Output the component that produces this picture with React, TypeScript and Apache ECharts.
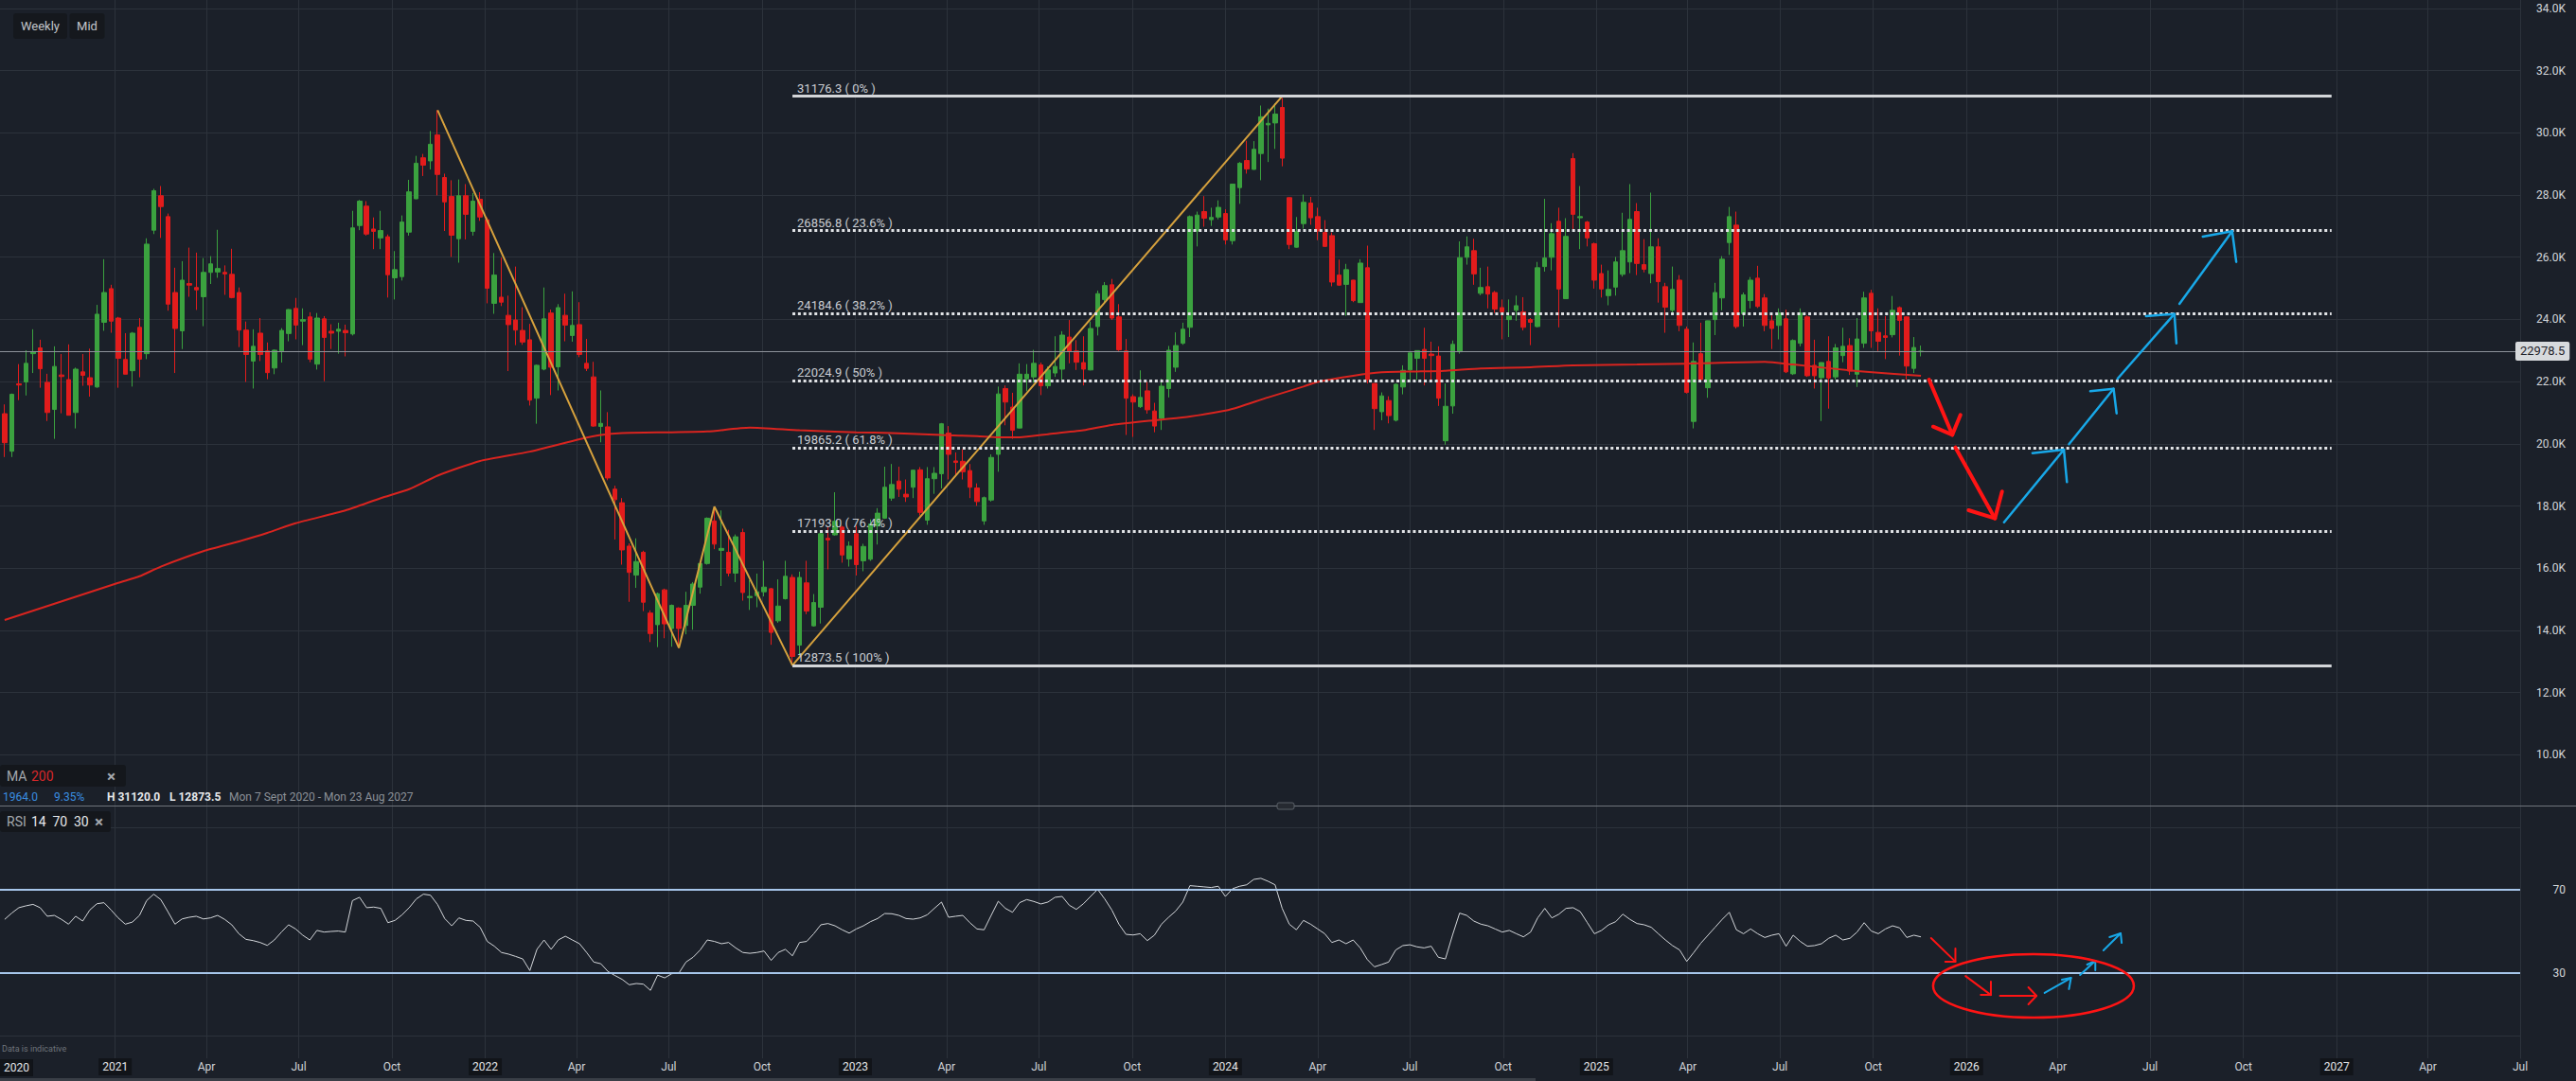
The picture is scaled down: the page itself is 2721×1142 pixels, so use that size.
import React, { useEffect, useRef } from "react";
import * as echarts from "echarts";

const FONT = "Roboto, 'Noto Sans', sans-serif";
const BG = "#1b2029";
const GRID = "#2c323b";
const UP = "#3ba23f";
const DOWN = "#e21c1c";
const MA_RED = "#d9241f";
const ORANGE = "#d6a13d";
const RSI_BAND = "#a7c6ea";
const ARROW_RED = "#ff1414";
const ARROW_BLUE = "#18a8e8";

const DAY = 86400000;
const FIRST_WEEK = "2020-09-14";
const X_MIN = "2020-09-09T10:00:00Z";
const X_MAX = "2027-07-01T00:00:00Z";

const OPEN = [
  20967,19760,21926,21988,22897,23084,21976,21104,22212,22063,
  21005,22312,22125,21826,23906,24989,24042,22710,22349,23744,
  22897,26868,27976,27304,24864,23632,25150,25026,24727,25511,
  25524,25511,25449,24864,23656,22660,23557,22984,22436,22984,
  23545,24354,23943,24080,22561,24017,23619,23619,23644,23532,
  27018,27641,26906,26619,26657,25337,25374,26806,27877,29197,
  29097,29931,28562,27951,26594,27976,26831,27864,27205,24516,
  24714,24130,23980,23644,23345,21465,22399,24204,22474,24130,
  23482,23831,22586,22150,20556,20544,18540,18104,16709,15776,
  16510,14556,14182,15302,14057,14717,14157,14805,15390,16149,
  17519,16573,16510,15838,17145,15053,15116,15240,15340,14306,
  15016,15701,13522,15526,14145,14742,16958,17070,17319,16299,
  17108,16236,16286,17357,17606,18253,18801,18378,18602,19162,
  17543,18876,19037,20345,19448,19436,19137,18577,17519,18191,
  19660,21776,21179,20507,22088,22150,22536,21864,22275,22399,
  23432,22984,22611,22374,23769,24640,25113,24080,22984,21515,
  21191,21702,21054,20818,21776,22461,23233,23744,26843,27466,
  27205,27292,27404,26532,28238,29109,28823,29334,30255,30317,
  30815,27914,26321,27080,27740,27304,26794,26694,25424,25126,
  25262,24540,25661,21939,21030,21390,20756,21826,22374,22747,
  23034,22885,22822,20096,21216,22959,25997,26209,24839,25051,
  24864,24379,23993,24291,24242,23993,23769,25698,25997,27155,
  24665,29172,27267,27130,26433,25474,24764,25038,25449,25847,
  27466,25760,25474,26333,25051,24291,25262,23682,20718,22897,
  21801,23993,24690,26470,27030,24179,24603,25325,24690,23955,
  23806,24017,22250,23233,24080,22523,22125,22648,22150,22835,
  23158,22237,23233,24839,23582,23470,23507,24379,24080,22424,22959,
];
const HIGH = [
  21266,21615,22561,23009,23682,23345,22250,23134,22885,23196,
  22449,22885,23059,24466,25935,25113,24080,23557,23594,24042,
  26607,28200,28288,27404,25661,25872,26308,26147,25972,26034,
  26881,25736,26271,25026,23930,23682,24042,23258,23034,23719,
  24330,24690,24354,24229,24204,24105,23843,23893,23831,27491,
  27840,27802,27279,27491,26731,26196,27342,28487,29259,29321,
  30056,30728,28686,28474,28499,28350,28064,28089,27279,26134,
  25985,24764,25698,24391,23856,22548,25026,24316,24490,24827,
  24901,24553,23370,22635,21714,21017,18651,18253,16797,16958,
  16560,14643,15215,15340,14830,14742,15240,15551,16199,17631,
  17979,17855,17232,17083,17270,15614,15825,16236,15365,15639,
  16236,15800,15888,16236,15166,17132,17319,18440,17357,16859,
  17357,16784,17568,17930,19262,19349,19262,18851,19162,19250,
  19250,19250,20668,20569,19722,19822,19349,18726,18303,19660,
  21839,21876,21640,22586,22561,23021,22611,22486,23457,23619,
  23980,23333,23457,23930,24926,25200,25300,24490,23370,21590,
  22361,21988,21316,22088,23146,23582,23893,27342,27466,27964,
  27591,27827,27541,28360,29060,29744,29732,30877,30778,30952,
  31120,27920,27292,28014,27939,27591,27192,26794,25922,25785,
  25270,25935,26371,21945,21652,21527,21939,22523,22930,23000,
  23731,23283,23134,21939,23320,26508,26669,26594,25661,25698,
  24914,24640,24640,24764,24714,24042,25847,27877,27093,27591,
  27254,29346,28288,27167,26470,25760,25574,26009,27429,28350,
  27740,26582,28076,26607,25175,25698,25424,23769,23258,23893,
  23960,25175,26034,27616,27466,24864,25362,25723,24814,24130,
  24354,24316,23358,24354,24130,23345,22620,23457,23208,23731,
  23395,24042,24889,24951,24354,24105,24752,24416,24105,23432,23158,
];
const LOW = [
  19573,19573,21403,21553,22275,21801,20731,20158,20980,20917,
  20494,21864,21515,21801,23632,23569,21801,22237,21839,22137,
  22722,26744,26619,24279,22275,23046,24727,24304,23781,25138,
  25337,24789,24677,23109,21988,21776,22660,22075,22237,22611,
  23295,23358,23171,22623,22386,22013,23046,22897,22810,23482,
  26868,26694,26259,26259,24702,24640,25250,26694,27870,28611,
  28823,27989,26843,26009,25823,26570,26694,27168,24516,24179,
  24428,22337,23171,23183,21229,20644,22361,21565,21714,23295,
  23283,22785,22337,20544,20046,18826,16921,16112,14917,15365,
  14618,13622,13460,13746,13472,13435,13871,14020,15178,16112,
  16610,15427,15738,15551,14954,14655,14742,15091,13535,14244,
  14991,12874,13124,14518,14120,14219,15962,17045,16174,16050,
  15763,15900,16236,16759,17581,18166,18291,18129,18253,17693,
  17394,18390,18564,18851,18950,18851,18253,18004,17394,18141,
  19100,20594,20158,20500,21689,21963,21565,21776,22150,22063,
  22586,22374,21876,22360,23482,24516,23980,22984,20283,20220,
  21154,20967,20370,20444,21490,22312,23183,23432,26346,26980,
  27005,27217,26408,26408,27716,28686,28811,28475,29060,29483,
  28922,26259,26310,26918,27043,26545,26340,25063,25076,24117,
  24553,24530,21939,20444,20756,20656,20718,21590,21988,22051,
  21876,22063,21216,19971,20967,22897,25760,25113,24777,24354,
  24204,23358,23432,23955,23644,23171,23744,25536,25574,23744,
  24660,26856,26259,26346,24989,24702,24453,24764,25374,25486,
  25424,25511,25163,24540,23569,24229,23619,21615,20494,22050,
  21478,23495,24291,26072,23706,23769,24354,24366,23619,23046,
  23357,22275,22212,23134,22150,21776,20731,21129,22063,22623,
  22212,21826,23084,23084,22984,22722,23420,22835,22063,22275,22810,
];
const CLOSE = [
  20034,21590,21889,22586,22959,22411,21005,22486,22162,20917,
  22399,22200,21889,24167,24864,23943,22747,22237,23557,22722,
  26420,28138,27628,24490,23706,25262,25101,24951,25511,25785,
  25636,25462,24702,23656,22872,23134,22872,22287,23009,23644,
  24316,23818,23993,22722,24042,23420,23557,23682,23569,26943,
  27802,26744,26831,26856,25436,25599,27130,28101,29022,28960,
  29632,28661,27777,26706,27976,27379,27802,27292,25001,25424,
  24553,23831,23656,23271,21403,22523,24017,22461,24379,23818,
  23806,22872,22424,20569,20656,18900,18203,16585,15863,16212,
  14904,13896,15178,14207,14805,14057,14805,15489,16149,17606,
  16772,16635,15838,17008,15215,15091,15240,15390,13933,14780,
  15738,13161,15701,14618,14892,17108,16909,17506,16423,16709,
  16112,16697,17419,17768,18602,18689,18540,18291,19150,17793,
  18876,19050,20643,19660,19398,19100,18602,18141,18266,19560,
  21602,21341,20432,22237,22237,22586,21864,22374,22486,23495,
  22972,22623,22399,23706,24827,25088,24042,23021,21465,21341,
  21490,21092,20569,21851,23009,23159,23682,27304,27354,27254,
  27279,27603,26557,28350,29022,28835,29470,30516,30305,30603,
  29184,26408,26819,27765,27267,26843,26346,25200,25101,25599,
  24602,25810,22063,21129,21540,20905,21913,22361,22922,22996,
  22747,22835,21465,21204,23196,25985,26333,25462,25026,24814,
  24329,24242,24105,24441,23744,23906,25661,25972,26756,24976,
  26669,27379,27304,26619,25262,24976,24964,25847,26209,27217,
  25798,25611,26333,25213,24391,24964,23806,21652,22648,22063,
  23955,24864,25935,27304,23769,24789,25262,24416,23806,23706,
  24204,22312,23320,24204,22187,22187,22611,22113,23084,23134,
  22337,23370,24690,23632,23295,23420,24291,23968,22498,23096,22978.5,
];
const RSI = [
  55.8,58.8,61.4,62.3,63,61.4,57.3,57.7,55.8,53.5,
  57.3,55,60.3,63.3,63.8,60.3,56.5,53.5,54.5,57.7,
  64.8,67.9,65.3,59.5,53.5,56,56.8,57.3,56,56.5,
  57.7,55.8,53.2,48.9,46.2,45.6,44.7,43.3,45.9,49.7,
  53.2,51.2,48.2,45.9,50.5,49.7,50,50.2,49.7,64.8,
  66.4,61.4,61.7,61.1,54.2,55.3,58,61.4,65.6,67.9,
  67.4,62.9,56.2,52.7,56.5,55.3,55,52,45.2,42.9,
  39.9,39.1,38,36.8,31.2,41.4,45.9,41.4,45.9,47.7,
  45.9,44.1,39.9,35.3,34.5,30.8,28.8,27,24.4,25,
  24.7,21.7,29,27.7,29.7,30,35.3,37.6,41.1,45.9,
  45.2,44.1,44.7,42.1,39.9,39.5,39.9,40.6,36.1,39.9,
  41.4,38.3,44.7,45.2,48.9,53.2,53.8,52.7,50.8,49.2,
  51.2,52.7,54.7,56.2,58.6,58.5,57.7,56.2,55.9,56.5,
  58,61.1,64.1,56.8,57.3,57.7,54.2,51.2,50.8,57.7,
  64.5,61.1,59.2,63.8,65.3,64.4,63.2,64.1,66.4,66.8,
  62.6,60.6,63.3,66.8,70.2,65.6,60.3,53.5,48.6,48.3,
  48.9,45.6,48.2,53.5,56.8,59.8,64.1,72,71.7,71.4,
  71.1,71.7,66.8,70.5,71.7,72.4,75,75.5,74.1,72.4,
  61.1,53.5,50.8,55.3,53.5,51.2,48.9,44.7,45.9,44.1,
  45.9,42.1,36.5,33,34.1,35.3,41.1,43.2,43.6,42.6,
  42.1,42.9,37.6,36.8,48.2,58.8,57.7,55,53.5,52.7,
  51.2,49.7,50.5,48.9,47.4,49.7,56.5,61.1,56.5,58.3,
  61.1,61.4,59.5,54.2,48.9,50.5,53.2,54.7,58.3,55.8,
  53.8,53.2,52,48.9,45.9,43.2,41.1,35.6,39.9,44.4,
  48.2,52,55.8,59.2,50.8,48.9,51.2,48.9,47.1,48.2,
  48.9,42.9,48.2,45.2,42.9,43.2,44.1,46.7,48.2,45.9,
  46.7,49.7,54.2,50.2,48.9,51.2,52.7,51.7,47.1,48.2,47.4,
];
const MA_WEEK = [1,17,20,23,29,34,38,42,49,54,58,62,68,75,82,85,88,95,100,106,113,121,126,133,138,141,144,148,153,157,164,168,173,175,179,184,186,191,195,200,204,209,216,222,231,240,249,253,262,271];
const MA_VALUE = [14330,15526,15738,16050,16547,16859,17132,17444,17855,18253,18540,18975,19448,19747,20145,20282,20345,20370,20394,20519,20432,20370,20345,20282,20245,20208,20208,20307,20432,20606,20780,20880,21067,21191,21490,21839,21988,22187,22299,22324,22349,22424,22461,22523,22548,22586,22635,22548,22337,22187];

const X_TICKS = [
  "2021-01-01","2021-04-01","2021-07-01","2021-10-01",
  "2022-01-01","2022-04-01","2022-07-01","2022-10-01",
  "2023-01-01","2023-04-01","2023-07-01","2023-10-01",
  "2024-01-01","2024-04-01","2024-07-01","2024-10-01",
  "2025-01-01","2025-04-01","2025-07-01","2025-10-01",
  "2026-01-01","2026-04-01","2026-07-01","2026-10-01",
  "2027-01-01","2027-04-01","2027-07-01",
];
const X_TICK_LABELS = [
  "2021","Apr","Jul","Oct","2022","Apr","Jul","Oct","2023","Apr","Jul","Oct",
  "2024","Apr","Jul","Oct","2025","Apr","Jul","Oct","2026","Apr","Jul","Oct",
  "2027","Apr","Jul",
];

const LAST_PRICE = 22978.5;
const FIB_LEVELS = [31176.3, 26856.8, 24184.6, 22024.9, 19865.2, 17193.0, 12873.5];
const FIB_PCT = ["0%", "23.6%", "38.2%", "50%", "61.8%", "76.4%", "100%"];
const FIB_START = "2022-10-31";
const FIB_END = "2026-12-27";

const ZIGZAG_DATES = ["2021-11-15", "2022-07-11", "2022-08-15", "2022-10-31", "2024-02-26"];
const ZIGZAG_VALUES = [30728, 13435, 17979, 12873.5, 31176.3];

// hand-drawn arrows on the price pane: [tail, tip, head1, head2] as [date, price]
const PRICE_ARROWS_RED = [
  [["2025-11-25", 22064], ["2025-12-18", 20289], ["2025-11-29", 20551], ["2025-12-26", 20928]],
  [["2025-12-21", 19881], ["2026-01-29", 17598], ["2026-01-03", 17863], ["2026-02-05", 18463]],
];
const PRICE_ARROWS_BLUE = [
  [["2026-02-07", 17476], ["2026-04-07", 19811], ["2026-03-07", 19699], ["2026-04-10", 18767]],
  [["2026-04-12", 19985], ["2026-05-26", 21769], ["2026-05-03", 21689], ["2026-05-29", 20977]],
  [["2026-05-30", 22094], ["2026-07-25", 24174], ["2026-06-27", 24103], ["2026-07-27", 23230]],
  [["2026-07-30", 24499], ["2026-09-20", 26834], ["2026-08-22", 26661], ["2026-09-24", 25848]],
];
// arrows on the RSI pane: [tail, tip, head1, head2] as [date, rsi]
const RSI_ARROWS_RED = [
  [["2025-11-27", 46.8], ["2025-12-21", 35.5], ["2025-12-21", 41.8], ["2025-12-11", 35.5]],
  [["2025-12-31", 28.6], ["2026-01-25", 19.5], ["2026-01-25", 25.9], ["2026-01-15", 19.5]],
  [["2026-02-03", 19.1], ["2026-03-11", 19.1], ["2026-03-03", 23.2], ["2026-03-03", 15.0]],
];
const RSI_ARROWS_BLUE = [
  [["2026-03-19", 20.5], ["2026-04-14", 27.7], ["2026-04-05", 26.8], ["2026-04-12", 22.3]],
  [["2026-04-23", 29.1], ["2026-05-08", 35.9], ["2026-04-30", 34.1], ["2026-05-08", 31.4]],
  [["2026-05-16", 40.9], ["2026-06-02", 49.1], ["2026-05-22", 47.3], ["2026-06-03", 44.5]],
];
const RSI_ELLIPSE = { left: "2025-11-29", right: "2026-06-15", top: 39.1, bottom: 8.6 };

const ts = (s: string) => Date.parse(s);

export default function App() {
  const ref = useRef<HTMLDivElement>(null);

  useEffect(() => {
    if (!ref.current) return;
    const chart = echarts.init(ref.current, null, { renderer: "svg" });

    const t0 = ts(FIRST_WEEK);
    const weekTs = OPEN.map((_, i) => t0 + i * 7 * DAY);
    const candleData = OPEN.map((o, i) => [weekTs[i], o, CLOSE[i], LOW[i], HIGH[i]]);
    const maData = MA_WEEK.map((w, k) => [weekTs[w - 1], MA_VALUE[k]]);
    const rsiData = RSI.map((v, i) => [weekTs[i], v]);
    const tickTs = X_TICKS.map(ts);
    const zig = ZIGZAG_DATES.map((d, k) => [ts(d), ZIGZAG_VALUES[k]]);
    const fibS = ts(FIB_START);
    const fibE = ts(FIB_END);

    const xBase = { type: "value", min: ts(X_MIN), max: ts(X_MAX), scale: true };
    const labelOf = (v: number) => {
      for (let k = 0; k < tickTs.length; k++) {
        if (Math.abs(tickTs[k] - v) < DAY) {
          const s = X_TICK_LABELS[k];
          return /^\d{4}$/.test(s) ? `{y|${s}}` : `{m|${s}}`;
        }
      }
      return "";
    };

    const option: any = {
      backgroundColor: BG,
      animation: false,
      textStyle: { fontFamily: FONT },
      grid: [
        { left: 0, right: 59, top: 0, bottom: 24 },
        { left: 0, right: 59, top: 8.9, height: 788.4 },
        { left: 0, right: 59, top: 874, height: 220 },
      ],
      xAxis: [
        {
          ...xBase,
          gridIndex: 0,
          position: "bottom",
          axisLine: { show: false },
          axisTick: { show: false, customValues: tickTs },
          splitLine: { show: true, lineStyle: { color: GRID, width: 1 } },
          axisLabel: {
            customValues: tickTs,
            formatter: labelOf,
            margin: 0,
            showMinLabel: true,
            showMaxLabel: true,
            rich: {
              y: { color: "#e4e6e9", fontSize: 12, fontFamily: FONT, backgroundColor: "#111419", padding: [3, 4, 3, 4] },
              m: { color: "#d2d5d9", fontSize: 12, fontFamily: FONT, padding: [3, 4, 3, 4] },
            },
          },
        },
        { ...xBase, gridIndex: 1, show: false },
        { ...xBase, gridIndex: 2, show: false },
      ],
      yAxis: [
        {
          gridIndex: 0, type: "value", position: "right", min: 0, max: 1,
          axisLine: { show: true, lineStyle: { color: GRID } },
          axisTick: { show: false }, axisLabel: { show: false }, splitLine: { show: false },
        },
        {
          gridIndex: 1, type: "value", position: "right", min: 10000, max: 34000, interval: 2000,
          axisLine: { show: false }, axisTick: { show: false },
          splitLine: { show: true, lineStyle: { color: GRID, width: 1 } },
          axisLabel: {
            formatter: (v: number) => (v / 1000).toFixed(1) + "K",
            color: "#d3d6da", fontSize: 12, fontFamily: FONT, align: "right", margin: 48,
          },
        },
        {
          gridIndex: 2, type: "value", position: "right", min: 0, max: 100, interval: 10,
          axisLine: { show: false }, axisTick: { show: false }, splitLine: { show: false },
          axisLabel: {
            formatter: (v: number) => (v === 70 || v === 30 ? String(v) : ""),
            color: "#d3d6da", fontSize: 12, fontFamily: FONT, align: "right", margin: 48,
          },
        },
      ],
      series: [
        {
          type: "candlestick",
          xAxisIndex: 1,
          yAxisIndex: 1,
          data: candleData,
          encode: { x: 0, y: [1, 2, 3, 4] },
          barWidth: 5,
          silent: true,
          z: 2,
          itemStyle: { color: UP, color0: DOWN, borderColor: UP, borderColor0: DOWN, borderWidth: 1 },
          markLine: {
            silent: true,
            symbol: ["none", "none"],
            animation: false,
            data: [{ yAxis: LAST_PRICE }],
            lineStyle: { color: "#8d9299", width: 1, type: "solid" },
            label: {
              show: true,
              position: "end",
              formatter: String(LAST_PRICE),
              color: "#1f2329",
              backgroundColor: "#d7dadd",
              padding: [4, 5, 3, 5],
              borderRadius: 2,
              fontSize: 13,
              fontFamily: FONT,
              distance: -5,
            },
          },
        },
        {
          type: "line",
          xAxisIndex: 1,
          yAxisIndex: 1,
          data: maData,
          showSymbol: false,
          smooth: 0.2,
          silent: true,
          z: 3,
          lineStyle: { color: MA_RED, width: 2 },
        },
        {
          type: "line",
          xAxisIndex: 1,
          yAxisIndex: 1,
          data: zig,
          showSymbol: false,
          silent: true,
          z: 4,
          lineStyle: { color: ORANGE, width: 2 },
          markLine: {
            silent: true,
            symbol: ["none", "none"],
            animation: false,
            label: { show: false },
            data: FIB_LEVELS.map((lvl, k) => {
              const solid = k === 0 || k === FIB_LEVELS.length - 1;
              return [
                {
                  coord: [fibS, lvl],
                  lineStyle: solid
                    ? { color: "#d4d6d9", width: 3, type: "solid" }
                    : { color: "#e2e4e7", width: 3, type: [3, 2.8] },
                },
                { coord: [fibE, lvl] },
              ];
            }),
          },
        },
        {
          type: "line",
          xAxisIndex: 2,
          yAxisIndex: 2,
          data: rsiData,
          showSymbol: false,
          silent: true,
          z: 3,
          lineStyle: { color: "#d4d7db", width: 1 },
          markLine: {
            silent: true,
            symbol: ["none", "none"],
            animation: false,
            label: { show: false },
            lineStyle: { type: "solid" },
            data: [
              { yAxis: 70, lineStyle: { color: RSI_BAND, width: 2, type: "solid" } },
              { yAxis: 30, lineStyle: { color: RSI_BAND, width: 2, type: "solid" } },
              { yAxis: 100, lineStyle: { color: GRID, width: 1, type: "solid" } },
              { yAxis: 0, lineStyle: { color: GRID, width: 1, type: "solid" } },
            ],
          },
        },
      ],
    };

    chart.setOption(option);

    const P = (idx: number, d: string | number, v: number): number[] =>
      chart.convertToPixel({ xAxisIndex: idx, yAxisIndex: idx }, [typeof d === "string" ? ts(d) : d, v]) as number[];

    const g: any[] = [];
    const txt = (x: number, y: number, text: string, fill: string, size: number, extra: any = {}) => ({
      type: "text",
      x,
      y,
      z: 120,
      silent: true,
      style: {
        text,
        fill,
        fontSize: size,
        fontFamily: FONT,
        fontWeight: extra.weight || "normal",
        align: extra.align || "left",
        verticalAlign: "middle",
        ...(extra.style || {}),
      },
    });

    g.push({ type: "rect", z: 110, silent: true, shape: { x: 14, y: 14, width: 57, height: 27, r: 3 }, style: { fill: "#15181d" } });
    g.push({ type: "rect", z: 110, silent: true, shape: { x: 73.5, y: 14, width: 37, height: 27, r: 3 }, style: { fill: "#15181d" } });
    g.push(txt(42.5, 27.5, "Weekly", "#c3c6cb", 13, { align: "center" }));
    g.push(txt(92, 27.5, "Mid", "#c3c6cb", 13, { align: "center" }));

    g.push({ type: "rect", z: 110, silent: true, shape: { x: 0, y: 808, width: 133, height: 23, r: 3 }, style: { fill: "#14171c" } });
    g.push(txt(7, 819.5, "MA", "#a3a7ad", 14));
    g.push(txt(33, 819.5, "200", "#d8282b", 14));
    g.push(txt(113, 819.5, "×", "#a3a7ad", 17, { weight: "bold" }));
    g.push(txt(3, 842, "1964.0", "#3a8ee0", 12));
    g.push(txt(57, 842, "9.35%", "#3a8ee0", 12));
    g.push(txt(113, 842, "H 31120.0", "#e6e8eb", 12, { weight: "bold" }));
    g.push(txt(179, 842, "L 12873.5", "#e6e8eb", 12, { weight: "bold" }));
    g.push(txt(242, 842, "Mon 7 Sept 2020 - Mon 23 Aug 2027", "#8c9198", 12));
    g.push({ type: "line", z: 110, silent: true, shape: { x1: 0, y1: 851.5, x2: 2721, y2: 851.5 }, style: { stroke: "#6e737a", lineWidth: 1 } });
    g.push({ type: "rect", z: 111, silent: true, shape: { x: 1349, y: 848, width: 18, height: 7, r: 2 }, style: { fill: "#262a31", stroke: "#5b6068", lineWidth: 1 } });
    g.push({ type: "rect", z: 110, silent: true, shape: { x: 0, y: 857, width: 117, height: 22, r: 3 }, style: { fill: "#14171c" } });
    g.push(txt(7, 868, "RSI", "#a3a7ad", 14));
    g.push(txt(33, 868, "14", "#e6e8eb", 14));
    g.push(txt(55.5, 868, "70", "#e6e8eb", 14));
    g.push(txt(78, 868, "30", "#e6e8eb", 14));
    g.push(txt(100, 868, "×", "#a3a7ad", 17, { weight: "bold" }));
    g.push(txt(2, 1108, "Data is indicative", "#6f747b", 9));
    g.push(txt(0, 1128, "2020", "#e4e6e9", 12, { style: { backgroundColor: "#111419", padding: [3, 4, 3, 4] } }));
    g.push({ type: "rect", z: 110, silent: true, shape: { x: 0, y: 1139, width: 1622, height: 3 }, style: { fill: "#3a3f47" } });

    FIB_LEVELS.forEach((lvl, k) => {
      const [x, y] = P(1, fibS, lvl);
      g.push({
        type: "text",
        x: x + 5,
        y: y - 2,
        z: 120,
        silent: true,
        style: {
          text: `${lvl.toFixed(1)} ( ${FIB_PCT[k]} )`,
          fill: "#c9ccd1",
          fontSize: 13,
          fontFamily: FONT,
          align: "left",
          verticalAlign: "bottom",
        },
      });
    });

    const arrow = (idx: number, a: any[], color: string, width: number) => {
      const pts = a.map((p: any) => P(idx, p[0], p[1]));
      g.push({ type: "polyline", z: 115, silent: true, shape: { points: [pts[0], pts[1]] }, style: { stroke: color, lineWidth: width, fill: "none", lineCap: "round", lineJoin: "round" } });
      g.push({ type: "polyline", z: 115, silent: true, shape: { points: [pts[2], pts[1], pts[3]] }, style: { stroke: color, lineWidth: width, fill: "none", lineCap: "round", lineJoin: "round" } });
    };
    PRICE_ARROWS_RED.forEach((a) => arrow(1, a, ARROW_RED, 4));
    PRICE_ARROWS_BLUE.forEach((a) => arrow(1, a, ARROW_BLUE, 2.5));
    RSI_ARROWS_RED.forEach((a) => arrow(2, a, ARROW_RED, 2));
    RSI_ARROWS_BLUE.forEach((a) => arrow(2, a, ARROW_BLUE, 2));

    const e1 = P(2, RSI_ELLIPSE.left, RSI_ELLIPSE.top);
    const e2 = P(2, RSI_ELLIPSE.right, RSI_ELLIPSE.bottom);
    g.push({
      type: "ellipse",
      z: 115,
      silent: true,
      shape: { cx: (e1[0] + e2[0]) / 2, cy: (e1[1] + e2[1]) / 2, rx: Math.abs(e2[0] - e1[0]) / 2, ry: Math.abs(e2[1] - e1[1]) / 2 },
      style: { fill: "none", stroke: ARROW_RED, lineWidth: 2.5 },
    });

    chart.setOption({ graphic: g });

    return () => chart.dispose();
  }, []);

  return (
    <div
      ref={ref}
      style={{ position: "fixed", left: 0, top: 0, width: 2721, height: 1142, background: BG }}
    />
  );
}
